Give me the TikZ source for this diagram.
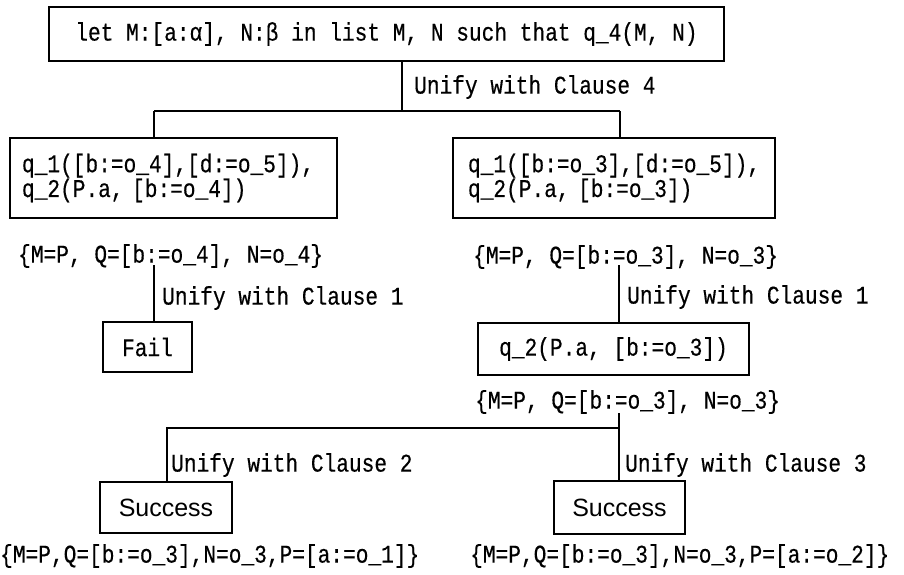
\documentclass[tikz,border=0pt]{standalone}
\usepackage{fontspec}
\newfontfamily\monof[FakeStretch=0.83,FakeBold=0.4]{Liberation Mono}
\newfontfamily\sansf{Liberation Sans}
\begin{document}
\begin{tikzpicture}[x=1pt,y=-1pt,
  txt/.style={inner sep=0pt, font=\monof\fontsize{25.5}{21.5}\selectfont},
  box/.style={draw, line width=1.6pt, inner sep=0pt, font=\monof\fontsize{25.5}{21.5}\selectfont},
  sbox/.style={draw, line width=1.6pt, inner sep=0pt, font=\sansf\fontsize{25}{26}\selectfont},
  conn/.style={line width=1.6pt}]
\useasboundingbox (0,0) rectangle (904,574);
% top
\node[box, minimum width=675pt, minimum height=54pt] (top) at (386.5,34) {let M:[a:α], N:β in list M, N such that q\_4(M, N)};
\coordinate (j0) at (402,111);
\coordinate (jl) at (154,111);
\coordinate (jr) at (620,111);
\node[txt, anchor=west] (u4) at (414,87) {Unify with Clause 4};
% level 1 boxes
\node[box, align=left, text width=303pt, inner xsep=12pt, minimum height=80pt] (L1) at (173.5,178)
  {q\_1([b:=o\_4],[d:=o\_5]),\\q\_2(P.a, [b:=o\_4])};
\node[box, align=left, text width=292pt, inner xsep=15pt, minimum height=80pt] (R1) at (614,178)
  {q\_1([b:=o\_3],[d:=o\_5]),\\q\_2(P.a, [b:=o\_3])};
\draw[conn] (top.south -| j0) -- (j0);
\draw[conn] (jl) -- (jr);
\draw[conn] (jl) -- (jl |- L1.north);
\draw[conn] (jr) -- (jr |- R1.north);
% substitutions level 1
\node[txt, anchor=west] (sL) at (18,256) {\{M=P, Q=[b:=o\_4], N=o\_4\}};
\node[txt, anchor=west] (sR) at (473,257) {\{M=P, Q=[b:=o\_3], N=o\_3\}};
% left branch
\coordinate (cL) at (154,265);
\node[box, minimum width=89pt, minimum height=50pt] (fail) at (147.5,347) {Fail};
\draw[conn] (cL) -- (cL |- fail.north);
\node[txt, anchor=west] (u1l) at (162,298) {Unify with Clause 1};
% right branch
\coordinate (cR) at (619,265);
\node[box, minimum width=271pt, minimum height=52pt] (q2) at (613.5,349) {q\_2(P.a, [b:=o\_3])};
\draw[conn] (cR) -- (cR |- q2.north);
\node[txt, anchor=west] (u1r) at (627,297) {Unify with Clause 1};
\node[txt, anchor=west] (s3) at (475,402) {\{M=P, Q=[b:=o\_3], N=o\_3\}};
% bottom
\coordinate (c3) at (619,413);
\coordinate (jb) at (619,428);
\coordinate (jbl) at (167,428);
\node[sbox, minimum width=132pt, minimum height=51pt] (succL) at (166,507.5) {Success};
\node[sbox, minimum width=131pt, minimum height=53pt] (succR) at (619.5,507.5) {Success};
\draw[conn] (c3) -- (c3 |- succR.north);
\draw[conn] (jb) -- (jbl) -- (jbl |- succL.north);
\node[txt, anchor=west] (u2) at (171,465) {Unify with Clause 2};
\node[txt, anchor=west] (u3) at (625,465) {Unify with Clause 3};
\node[txt, anchor=west] (bL) at (0,556) {\{M=P,Q=[b:=o\_3],N=o\_3,P=[a:=o\_1]\}};
\node[txt, anchor=west] (bR) at (470,556) {\{M=P,Q=[b:=o\_3],N=o\_3,P=[a:=o\_2]\}};
\end{tikzpicture}
\end{document}
